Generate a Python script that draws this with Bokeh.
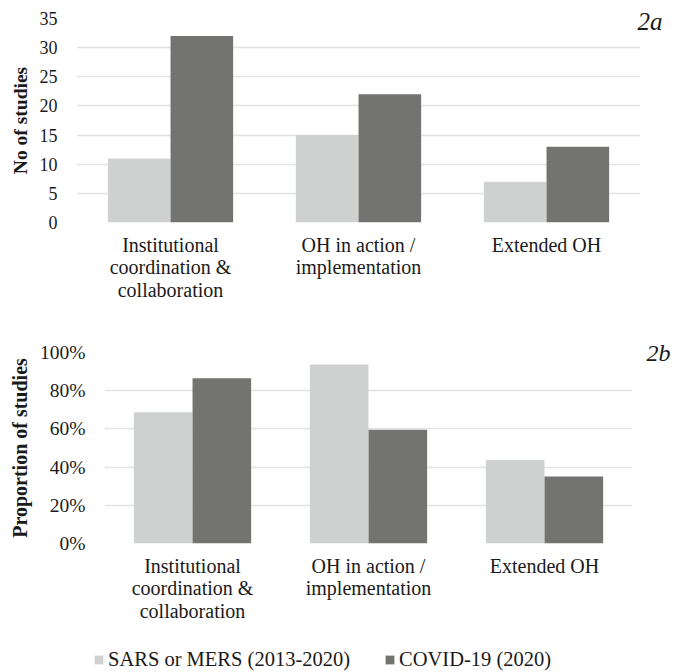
from bokeh.plotting import figure
from bokeh.models import (FactorRange, Range1d, Legend, LegendItem, LinearAxis,
                          NumeralTickFormatter, FixedTicker, ColumnDataSource)
from bokeh.transform import dodge
from bokeh.embed import file_html
from bokeh.resources import INLINE

# ---- data ----
categories = ["Institutional\ncoordination &\ncollaboration",
              "OH in action /\nimplementation",
              "Extended OH"]
series = ["SARS or MERS (2013-2020)", "COVID-19 (2020)"]
counts_sars = [11, 15, 7]
counts_covid = [32, 22, 13]
prop_sars = [0.6875, 0.9375, 0.4375]
prop_covid = [0.865, 0.595, 0.351]
yticks_a = [0, 5, 10, 15, 20, 25, 30, 35]
yticks_b = [0, 0.2, 0.4, 0.6, 0.8, 1.0]
panel_a = "2a"
panel_b = "2b"

COL_SARS = "#cfd1d0"
COL_COVID = "#737372"
FONT = "Liberation Serif"
TXT = "#1a1a1a"
GRID = "#e3e3e3"


def style(p, tick_size, ylabel_size):
    p.xgrid.grid_line_color = None
    p.ygrid.grid_line_color = GRID
    p.ygrid.grid_line_width = 1.5
    p.outline_line_color = None
    for ax in (p.xaxis, p.yaxis):
        ax.major_tick_line_color = None
        ax.minor_tick_line_color = None
        ax.axis_line_color = None
        ax.major_label_text_font = FONT
        ax.major_label_text_color = TXT
        ax.axis_label_text_font = FONT
        ax.axis_label_text_color = TXT
    p.yaxis.major_label_text_font_size = tick_size
    p.yaxis.major_label_standoff = 13
    p.yaxis.axis_label_text_font_size = ylabel_size
    p.yaxis.axis_label_text_font_style = "bold"
    p.yaxis.axis_label_standoff = 6
    p.xaxis.major_label_text_font_size = "20px"
    p.xaxis.major_label_standoff = 5
    p.xaxis.major_label_text_line_height = 1.04


def panel_tag(p, ypos, text, standoff, size):
    ax = LinearAxis(ticker=FixedTicker(ticks=[ypos]),
                    major_label_overrides={ypos: text})
    ax.axis_line_color = None
    ax.major_tick_line_color = None
    ax.minor_tick_line_color = None
    ax.major_label_standoff = standoff
    ax.major_label_text_font = FONT
    ax.major_label_text_font_style = "italic"
    ax.major_label_text_font_size = size
    ax.major_label_text_color = TXT
    p.add_layout(ax, "right")


# ---- chart 2a ----
src_a = ColumnDataSource(dict(cat=categories, sars=counts_sars, covid=counts_covid))
p1 = figure(width=673, height=315, x_range=FactorRange(*categories),
            y_range=Range1d(0, 35), output_backend="svg", toolbar_location=None,
            min_border_left=76, min_border_right=33, min_border_top=18,
            min_border_bottom=93)
p1.vbar(x=dodge("cat", -0.1667, range=p1.x_range), top="sars", width=0.333,
        source=src_a, fill_color=COL_SARS, line_color=None)
p1.vbar(x=dodge("cat", 0.1667, range=p1.x_range), top="covid", width=0.333,
        source=src_a, fill_color=COL_COVID, line_color=None)
style(p1, "18px", "19.5px")
p1.yaxis.ticker = FixedTicker(ticks=yticks_a)
p1.yaxis.axis_label = "No of studies"
panel_tag(p1, 34.5, panel_a, -9, "25px")

# ---- chart 2b ----
src_b = ColumnDataSource(dict(cat=categories, sars=prop_sars, covid=prop_covid))
p2 = figure(width=673, height=310, x_range=FactorRange(*categories),
            y_range=Range1d(0, 1.0), output_backend="svg", toolbar_location=None,
            min_border_left=104, min_border_right=35, min_border_top=37,
            min_border_bottom=80)
p2.vbar(x=dodge("cat", -0.1667, range=p2.x_range), top="sars", width=0.333,
        source=src_b, fill_color=COL_SARS, line_color=None)
p2.vbar(x=dodge("cat", 0.1667, range=p2.x_range), top="covid", width=0.333,
        source=src_b, fill_color=COL_COVID, line_color=None)
style(p2, "19.5px", "20px")
p2.yaxis.ticker = FixedTicker(ticks=yticks_b)
p2.yaxis.formatter = NumeralTickFormatter(format="0%")
p2.yaxis.axis_label = "Proportion of studies"
panel_tag(p2, 1.0, panel_b, 8, "24px")

# ---- legend strip (keys reuse the 2b series, hidden from view) ----
p3 = figure(width=673, height=47, x_range=FactorRange(*categories),
            y_range=Range1d(0, 1.0), output_backend="svg", toolbar_location=None,
            x_axis_location=None, y_axis_location=None,
            min_border=0, outline_line_color=None)
p3.xgrid.grid_line_color = None
p3.ygrid.grid_line_color = None
k1 = p3.vbar(x="cat", top="sars", width=0.3, source=src_b,
             fill_color=COL_SARS, line_color=None, visible=False)
k2 = p3.vbar(x="cat", top="covid", width=0.3, source=src_b,
             fill_color=COL_COVID, line_color=None, visible=False)
legend = Legend(items=[LegendItem(label=series[0], renderers=[k1]),
                       LegendItem(label=series[1], renderers=[k2])],
                orientation="horizontal", location=(93, 1),
                padding=0, margin=0, spacing=34, label_standoff=4,
                glyph_width=11, glyph_height=11,
                label_text_font=FONT, label_text_font_size="20.5px",
                label_text_color=TXT, border_line_color=None,
                background_fill_alpha=0, inactive_fill_alpha=0)
p3.add_layout(legend)

open("out.html", "w").write(file_html([p1, p2, p3], INLINE))
